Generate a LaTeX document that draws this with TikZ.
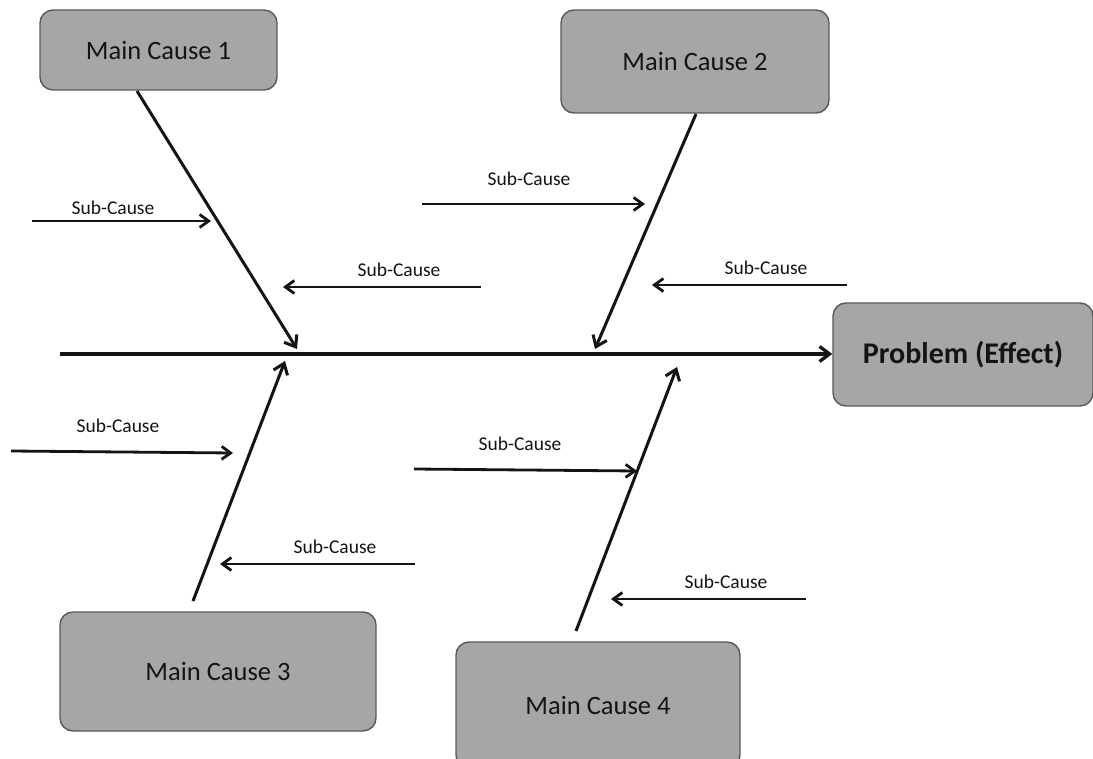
\documentclass[tikz,border=0pt]{standalone}
\usepackage{fontspec}
\setmainfont{Carlito}
\usetikzlibrary{arrows.meta}
\definecolor{boxfill}{HTML}{A6A6A6}
\definecolor{boxline}{HTML}{595959}
\definecolor{ink}{HTML}{141414}
\begin{document}
\begin{tikzpicture}[x=1pt,y=-1pt,
  cause/.style={draw=boxline, fill=boxfill, line width=1.4pt, rounded corners=13pt,
    text=ink, font=\fontsize{26.5}{31}\selectfont, inner sep=0pt},
  effect/.style={cause, font=\fontsize{30}{35}\selectfont\bfseries},
  bone/.style={draw=ink, line width=3pt, -{Straight Barb[length=10pt,width=15pt]}},
  spine/.style={bone, line width=3.3pt},
  subarrow/.style={draw=ink, line width=2.8pt, -{Straight Barb[length=9pt,width=13pt]}},
  sublabel/.style={text=ink, font=\fontsize{19.5}{23}\selectfont, inner sep=0pt}]
  \useasboundingbox (0,0) rectangle (1093,759);

  % cause boxes and the effect box
  \node[cause, minimum width=237pt, minimum height=80pt]  (mc1) at (158.5,50)   {Main Cause 1};
  \node[cause, minimum width=268pt, minimum height=103pt] (mc2) at (695,61.5)   {Main Cause 2};
  \node[cause, minimum width=316pt, minimum height=119pt] (mc3) at (218,671.5)  {Main Cause 3};
  \node[cause, minimum width=284pt, minimum height=126pt] (mc4) at (598,705)    {Main Cause 4};
  \node[effect, minimum width=260pt, minimum height=103pt] (eff) at (963,354.5) {Problem (Effect)};

  % spine
  \coordinate (tail) at (60,354);
  \draw[spine] (tail) -- (eff.west |- tail);

  % main bones meeting the spine
  \coordinate (b1s) at (137,91);   \coordinate (b1e) at (297,349);
  \coordinate (b2s) at (696,114);  \coordinate (b2e) at (595,349);
  \coordinate (b3s) at (193,601);  \coordinate (b3e) at (285,361);
  \coordinate (b4s) at (576,631);  \coordinate (b4e) at (677,367);
  \draw[bone] (b1s) -- (b1e);
  \draw[bone] (b2s) -- (b2e);
  \draw[bone] (b3s) -- (b3e);
  \draw[bone] (b4s) -- (b4e);

  % sub-cause arrows with their labels
  \coordinate (s1a) at (32,221);  \coordinate (s1b) at (211,221);
  \coordinate (s2a) at (422,204); \coordinate (s2b) at (645,204);
  \coordinate (s3a) at (481,287); \coordinate (s3b) at (283,287);
  \coordinate (s4a) at (847,285); \coordinate (s4b) at (652,285);
  \coordinate (s5a) at (11,451);  \coordinate (s5b) at (233,453);
  \coordinate (s6a) at (414,469); \coordinate (s6b) at (637,471);
  \coordinate (s7a) at (415,564); \coordinate (s7b) at (220,564);
  \coordinate (s8a) at (806,599); \coordinate (s8b) at (611,599);
  \draw[subarrow] (s1a) -- (s1b);
  \draw[subarrow] (s2a) -- (s2b);
  \draw[subarrow] (s3a) -- (s3b);
  \draw[subarrow] (s4a) -- (s4b);
  \draw[subarrow] (s5a) -- (s5b);
  \draw[subarrow] (s6a) -- (s6b);
  \draw[subarrow] (s7a) -- (s7b);
  \draw[subarrow] (s8a) -- (s8b);

  \node[sublabel] (l1) at (113,208) {Sub-Cause};
  \node[sublabel] (l2) at (529,179) {Sub-Cause};
  \node[sublabel] (l3) at (399,270) {Sub-Cause};
  \node[sublabel] (l4) at (766,268) {Sub-Cause};
  \node[sublabel] (l5) at (118,426) {Sub-Cause};
  \node[sublabel] (l6) at (520,444) {Sub-Cause};
  \node[sublabel] (l7) at (335,547) {Sub-Cause};
  \node[sublabel] (l8) at (726,582) {Sub-Cause};
\end{tikzpicture}
\end{document}
